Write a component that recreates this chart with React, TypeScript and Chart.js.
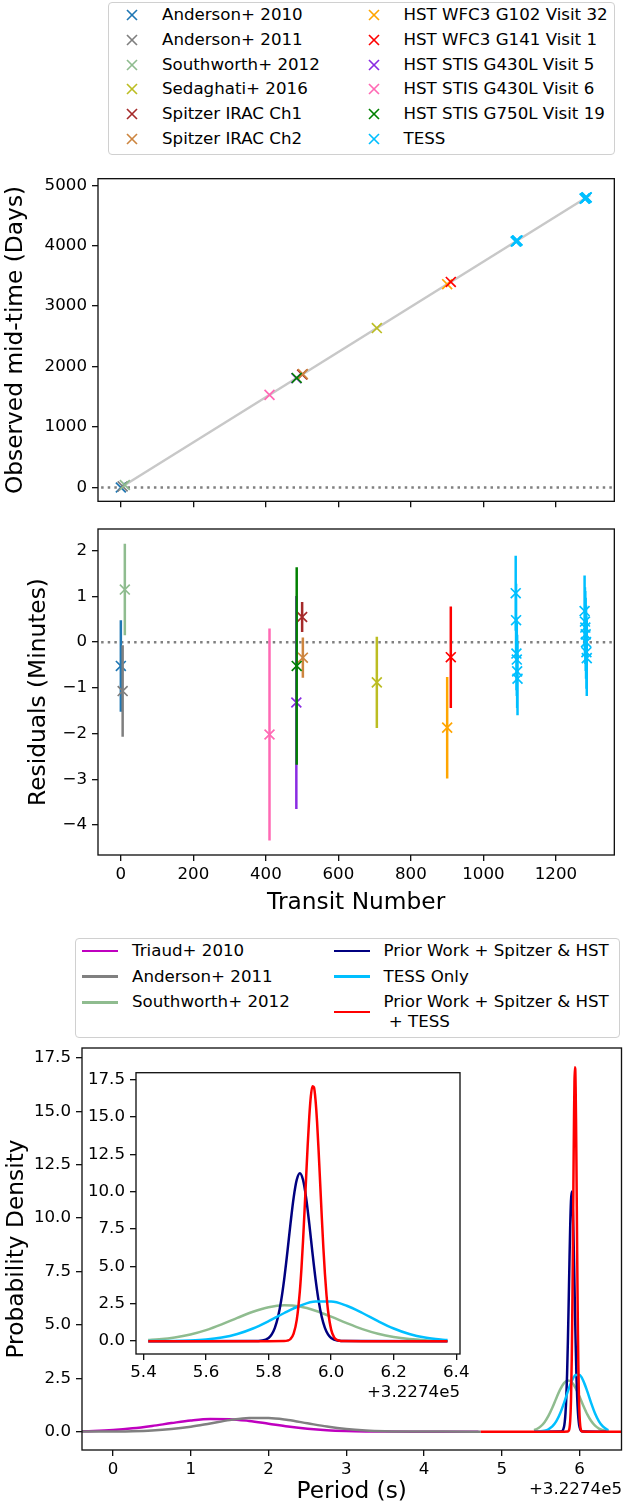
import React, { useEffect, useRef } from 'react';
import { Chart, registerables } from 'chart.js';

Chart.register(...registerables);

const FONT = "'DejaVu Sans', 'Liberation Sans', sans-serif";
const TICK_PX = 16.67;
const LABEL_PX = 23.3;

// ---------------- Transit timing data ----------------
const SERIES_NAMES = [
  'Anderson+ 2010', 'Anderson+ 2011', 'Southworth+ 2012', 'Sedaghati+ 2016',
  'Spitzer IRAC Ch1', 'Spitzer IRAC Ch2', 'HST WFC3 G102 Visit 32', 'HST WFC3 G141 Visit 1',
  'HST STIS G430L Visit 5', 'HST STIS G430L Visit 6', 'HST STIS G750L Visit 19', 'TESS',
];
const SERIES_COLORS = [
  '#1f77b4', '#7f7f7f', '#8fbc8f', '#bcbd22', '#a52a2a', '#cd853f',
  '#ffa500', '#ff0000', '#8a2be2', '#ff69b4', '#008000', '#00bfff',
];
const TRANSIT_NUMBERS = [
  [0], [5], [11], [706], [500], [502], [900], [910], [484], [410], [485],
  [1089, 1090, 1091, 1092, 1093, 1094, 1279, 1280, 1281, 1282, 1283, 1284, 1285],
];
const MIDTIMES_DAYS = [
  [0], [18.7], [41.1], [2637.2], [1867.7], [1875.2], [3361.9], [3399.2], [1808.0], [1531.5], [1811.7],
  [4067.9, 4071.6, 4075.4, 4079.1, 4082.8, 4086.6, 4777.6, 4781.4, 4785.1, 4788.8, 4792.6, 4796.3, 4800.0],
];
const RESIDUALS_MIN = [
  [-0.52], [-1.07], [1.15], [-0.88], [0.55], [-0.34], [-1.87], [-0.33], [-1.32], [-2.02], [-0.52],
  [1.07, 0.48, -0.25, -0.38, -0.64, -0.80, 0.68, 0.45, 0.32, 0.17, 0.0, -0.22, -0.35],
];
const RESIDUAL_ERRS = [
  [1.0], [1.0], [1.0], [1.0], [0.33], [0.44], [1.11], [1.11], [2.33], [2.32], [2.16],
  [0.82, 0.8, 0.8, 0.8, 0.8, 0.8, 0.78, 0.75, 0.8, 0.8, 0.8, 0.8, 0.83],
];
const FIT_TRANSITS = [0, 1295];
const FIT_MIDTIMES = [0, 4837.4];
const ZERO_LINE_X = [-200, 1600];
const ZERO_LINE_Y = [0, 0];

const TRANSIT_TICKS = [0, 200, 400, 600, 800, 1000, 1200];
const MIDTIME_TICKS = [0, 1000, 2000, 3000, 4000, 5000];
const RESIDUAL_TICKS = [-4, -3, -2, -1, 0, 1, 2];

// ---------------- Period posterior data (offset from 3.2274e5 s) ----------------
const PDF_NAMES = [
  'Triaud+ 2010', 'Anderson+ 2011', 'Southworth+ 2012',
  'Prior Work + Spitzer & HST', 'TESS Only', 'Prior Work + Spitzer & HST\n + TESS',
];
const PDF_COLORS = ['#bf00bf', '#808080', '#8fbc8f', '#000080', '#00bfff', '#ff0000'];

const TRIAUD_X = [-0.5, -0.25, 0, 0.25, 0.5, 0.75, 1.0, 1.25, 1.5, 1.75, 2.0, 2.25, 2.5, 2.75, 3.0, 3.25, 3.5, 4.0, 4.7];
const TRIAUD_Y = [0.0125, 0.033, 0.076, 0.153, 0.265, 0.399, 0.523, 0.593, 0.585, 0.501, 0.372, 0.24, 0.135, 0.065, 0.028, 0.01, 0.003, 0, 0];

const ANDERSON_X = [-0.5, -0.25, 0, 0.25, 0.5, 0.75, 1.0, 1.25, 1.5, 1.75, 2.0, 2.25, 2.5, 2.75, 3.0, 3.25, 3.5, 3.75, 4.0, 4.25, 4.73];
const ANDERSON_Y = [0.0003, 0.0015, 0.0057, 0.018, 0.051, 0.118, 0.231, 0.384, 0.539, 0.639, 0.641, 0.544, 0.39, 0.237, 0.121, 0.053, 0.019, 0.006, 0.0016, 0.0003, 0];

const SOUTHWORTH_X = [5.415, 5.45, 5.5, 5.55, 5.6, 5.65, 5.7, 5.75, 5.8, 5.85, 5.9, 5.95, 6.0, 6.05, 6.1, 6.15, 6.2, 6.25, 6.3, 6.372];
const SOUTHWORTH_Y = [0.072, 0.1225, 0.244, 0.444, 0.738, 1.12, 1.552, 1.965, 2.272, 2.399, 2.314, 2.037, 1.639, 1.204, 0.808, 0.495, 0.277, 0.1415, 0.066, 0.019];

const PRIOR_X = [5.415, 5.75, 5.78, 5.8, 5.81, 5.82, 5.83, 5.84, 5.85, 5.86, 5.87, 5.88, 5.89, 5.9, 5.91, 5.92, 5.93, 5.94, 5.95, 5.96, 5.97, 5.98, 5.99, 6.0, 6.02, 6.05, 6.372];
const PRIOR_Y = [0, 0.0015, 0.037, 0.212, 0.452, 0.887, 1.61, 2.695, 4.17, 5.96, 7.86, 9.59, 10.8, 11.24, 10.8, 9.59, 7.86, 5.96, 4.17, 2.695, 1.61, 0.887, 0.452, 0.212, 0.037, 0.0015, 0];

const TESS_ONLY_X = [5.415, 5.5, 5.55, 5.6, 5.65, 5.7, 5.75, 5.8, 5.85, 5.9, 5.95, 6.0, 6.05, 6.1, 6.15, 6.2, 6.25, 6.3, 6.35, 6.372];
const TESS_ONLY_Y = [0.002, 0.0156, 0.0435, 0.108, 0.241, 0.479, 0.847, 1.337, 1.883, 2.366, 2.652, 2.652, 2.366, 1.883, 1.337, 0.847, 0.479, 0.241, 0.108, 0.074];

const COMBINED_X = [4.73, 5.415, 5.8, 5.85, 5.86, 5.87, 5.88, 5.89, 5.9, 5.905, 5.91, 5.915, 5.92, 5.925, 5.93, 5.935, 5.94, 5.945, 5.95, 5.955, 5.96, 5.965, 5.97, 5.975, 5.98, 5.985, 5.99, 6.0, 6.01, 6.02, 6.03, 6.04, 6.1, 6.372, 6.8];
const COMBINED_Y = [0, 0, 0, 0.007, 0.035, 0.144, 0.497, 1.42, 3.37, 4.85, 6.67, 8.75, 10.96, 13.12, 14.99, 16.37, 17.06, 16.98, 16.14, 14.65, 12.7, 10.52, 8.32, 6.28, 4.53, 3.12, 2.05, 0.772, 0.242, 0.063, 0.014, 0.002, 0, 0, 0];

const PDF_XS = [TRIAUD_X, ANDERSON_X, SOUTHWORTH_X, PRIOR_X, TESS_ONLY_X, COMBINED_X];
const PDF_YS = [TRIAUD_Y, ANDERSON_Y, SOUTHWORTH_Y, PRIOR_Y, TESS_ONLY_Y, COMBINED_Y];

const PERIOD_TICKS = [0, 1, 2, 3, 4, 5, 6];
const DENSITY_TICKS = [0, 2.5, 5, 7.5, 10, 12.5, 15, 17.5];
const INSET_PERIOD_TICKS = [5.4, 5.6, 5.8, 6.0, 6.2, 6.4];
const PERIOD_OFFSET_LABEL = '+3.2274e5';

// ---------------- helpers ----------------
type Pt = { x: number; y: number };
const pts = (xs: number[], ys: number[]): Pt[] => xs.map((x, i) => ({ x, y: ys[i] }));
const minusFmt = (v: number) => (v < 0 ? '\u2212' + String(Math.abs(v)) : String(v));

const framePlugin = {
  id: 'frame',
  beforeDraw(chart: any) {
    const { ctx, chartArea: a } = chart;
    ctx.save();
    ctx.fillStyle = '#ffffff';
    ctx.fillRect(a.left, a.top, a.right - a.left, a.bottom - a.top);
    ctx.restore();
  },
  afterDraw(chart: any) {
    const { ctx, chartArea: a } = chart;
    ctx.save();
    ctx.strokeStyle = '#111';
    ctx.lineWidth = 1.33;
    ctx.strokeRect(a.left, a.top, a.right - a.left, a.bottom - a.top);
    ctx.restore();
  },
};

const errorBarPlugin = {
  id: 'errbars',
  beforeDatasetDraw(chart: any, args: any) {
    const ds = chart.data.datasets[args.index];
    if (!ds.errors) return;
    const { ctx, chartArea: a, scales } = chart;
    ctx.save();
    ctx.beginPath();
    ctx.rect(a.left, a.top, a.right - a.left, a.bottom - a.top);
    ctx.clip();
    ctx.strokeStyle = ds.borderColor;
    ctx.lineWidth = 2.5;
    ctx.beginPath();
    ds.data.forEach((p: Pt, i: number) => {
      const px = scales.x.getPixelForValue(p.x);
      ctx.moveTo(px, scales.y.getPixelForValue(p.y - ds.errors[i]));
      ctx.lineTo(px, scales.y.getPixelForValue(p.y + ds.errors[i]));
    });
    ctx.stroke();
    ctx.restore();
  },
};

function makeAxis(o: {
  horizontal: boolean; ticks: number[]; fmt: (v: number) => string; min: number; max: number;
  size: number; showLabels?: boolean; title?: string; titlePad?: number; tickPad?: number;
}) {
  return {
    type: 'linear',
    position: o.horizontal ? 'bottom' : 'left',
    min: o.min,
    max: o.max,
    grid: {
      display: true, drawOnChartArea: false, drawTicks: true, tickLength: 6,
      tickWidth: 1.33, tickColor: '#111', lineWidth: 1.33, color: '#111',
    },
    border: { display: false },
    ticks: {
      display: o.showLabels !== false, autoSkip: false, maxRotation: 0, minRotation: 0,
      padding: o.tickPad ?? 5, color: '#000', font: { family: FONT, size: TICK_PX },
      callback: (v: any) => o.fmt(Number(v)),
    },
    title: o.title
      ? {
          display: true, text: o.title, color: '#000', font: { family: FONT, size: LABEL_PX },
          padding: o.horizontal ? { top: 0, bottom: o.titlePad ?? 0 } : { top: o.titlePad ?? 0, bottom: 0 },
        }
      : { display: false },
    afterBuildTicks: (s: any) => { s.ticks = o.ticks.map((value) => ({ value })); },
    afterFit: (s: any) => {
      if (o.horizontal) s.height = o.size; else s.width = o.size;
      s.paddingTop = 0; s.paddingBottom = 0; s.paddingLeft = 0; s.paddingRight = 0;
    },
  };
}

function baseOptions(padding: any, scales: any) {
  return {
    responsive: false,
    maintainAspectRatio: false,
    animation: false,
    devicePixelRatio: 1,
    events: [],
    layout: { padding },
    plugins: { legend: { display: false }, tooltip: { enabled: false } },
    scales,
  };
}

function withOrder(datasets: any[]) {
  return datasets.map((d, i) => ({ ...d, order: -i }));
}

function ChartBox({ left, top, width, height, make }: { left: number; top: number; width: number; height: number; make: () => any }) {
  const ref = useRef<HTMLCanvasElement>(null);
  useEffect(() => {
    const chart = new Chart(ref.current as HTMLCanvasElement, make());
    return () => chart.destroy();
  }, []);
  return (
    <div style={{ position: 'absolute', left, top, width, height }}>
      <canvas ref={ref} width={width} height={height} style={{ width, height, display: 'block' }} />
    </div>
  );
}

// ---------------- chart configs ----------------
function topConfig() {
  const datasets: any[] = [
    { data: pts(ZERO_LINE_X, ZERO_LINE_Y), showLine: true, borderColor: '#808080', borderWidth: 2.5, borderDash: [2.5, 4.1], pointRadius: 0, clip: 0 },
    { data: pts(FIT_TRANSITS, FIT_MIDTIMES), showLine: true, borderColor: '#c8c8c8', borderWidth: 2.5, pointRadius: 0, clip: 0 },
  ];
  SERIES_NAMES.forEach((name, i) => {
    datasets.push({
      label: name, data: pts(TRANSIT_NUMBERS[i], MIDTIMES_DAYS[i]), pointStyle: 'crossRot', pointRadius: 7,
      borderColor: SERIES_COLORS[i], backgroundColor: SERIES_COLORS[i], borderWidth: 1.67, clip: 0,
    });
  });
  return {
    type: 'scatter',
    data: { datasets: withOrder(datasets) },
    options: baseOptions({ top: 5.7, right: 1, left: 0, bottom: 0 }, {
      x: makeAxis({ horizontal: true, ticks: TRANSIT_TICKS, fmt: String, min: -63, max: 1361, size: 8, showLabels: false }),
      y: makeAxis({ horizontal: false, ticks: MIDTIME_TICKS, fmt: String, min: -229, max: 5108, size: 98, title: 'Observed mid-time (Days)', titlePad: 2 }),
    }),
    plugins: [framePlugin],
  };
}

function residualConfig() {
  const datasets: any[] = [
    { data: pts(ZERO_LINE_X, ZERO_LINE_Y), showLine: true, borderColor: '#808080', borderWidth: 2.5, borderDash: [2.5, 4.1], pointRadius: 0, clip: 0 },
  ];
  SERIES_NAMES.forEach((name, i) => {
    datasets.push({
      label: name, data: pts(TRANSIT_NUMBERS[i], RESIDUALS_MIN[i]), errors: RESIDUAL_ERRS[i], pointStyle: 'crossRot', pointRadius: 7,
      borderColor: SERIES_COLORS[i], backgroundColor: SERIES_COLORS[i], borderWidth: 1.67, clip: 0,
    });
  });
  return {
    type: 'scatter',
    data: { datasets: withOrder(datasets) },
    options: baseOptions({ top: 9, right: 1, left: 0, bottom: 0 }, {
      x: makeAxis({ horizontal: true, ticks: TRANSIT_TICKS, fmt: String, min: -63, max: 1361, size: 75, title: 'Transit Number', titlePad: 13, tickPad: 4 }),
      y: makeAxis({ horizontal: false, ticks: RESIDUAL_TICKS, fmt: minusFmt, min: -4.656, max: 2.475, size: 98, title: 'Residuals (Minutes)', titlePad: 25 }),
    }),
    plugins: [framePlugin, errorBarPlugin],
  };
}

function pdfDatasets(lo: number, hi: number) {
  const out: any[] = [];
  PDF_NAMES.forEach((name, i) => {
    const data = pts(PDF_XS[i], PDF_YS[i]).filter((p) => p.x >= lo && p.x <= hi);
    if (!data.length) return;
    out.push({
      label: name, data, showLine: true, borderColor: PDF_COLORS[i], borderWidth: 2.5, pointRadius: 0,
      cubicInterpolationMode: 'monotone', borderJoinStyle: 'round', clip: 0,
    });
  });
  return withOrder(out);
}

function periodConfig() {
  return {
    type: 'scatter',
    data: { datasets: pdfDatasets(-10, 10) },
    options: baseOptions({ top: 8, right: 1.5, left: 0, bottom: 0 }, {
      x: makeAxis({ horizontal: true, ticks: PERIOD_TICKS, fmt: String, min: -0.4, max: 6.54, size: 56, title: 'Period (s)', titlePad: 0, tickPad: 4 }),
      y: makeAxis({ horizontal: false, ticks: DENSITY_TICKS, fmt: (v) => v.toFixed(1), min: -0.86, max: 17.96, size: 82, title: 'Probability Density', titlePad: 3 }),
    }),
    plugins: [framePlugin],
  };
}

function insetConfig() {
  return {
    type: 'scatter',
    data: { datasets: pdfDatasets(5.41, 6.38) },
    options: baseOptions({ top: 6.7, right: 26, left: 0, bottom: 0 }, {
      x: makeAxis({ horizontal: true, ticks: INSET_PERIOD_TICKS, fmt: (v) => v.toFixed(1), min: 5.376, max: 6.412, size: 32, tickPad: 3 }),
      y: makeAxis({ horizontal: false, ticks: DENSITY_TICKS, fmt: (v) => v.toFixed(1), min: -0.86, max: 17.96, size: 50 }),
    }),
    plugins: [framePlugin],
  };
}

// ---------------- legends ----------------
const textStyle = (left: number, cy: number): React.CSSProperties => ({
  position: 'absolute', left, top: cy - 10, fontSize: TICK_PX, lineHeight: '20px', color: '#000', whiteSpace: 'pre', fontFamily: FONT,
});

function XMark({ cx, cy, color }: { cx: number; cy: number; color: string }) {
  return (
    <svg style={{ position: 'absolute', left: cx - 7, top: cy - 7 }} width={14} height={14}>
      <line x1={2} y1={2} x2={12} y2={12} stroke={color} strokeWidth={1.67} />
      <line x1={12} y1={2} x2={2} y2={12} stroke={color} strokeWidth={1.67} />
    </svg>
  );
}

function TopLegend() {
  const rows = [15, 39.8, 64.5, 89.2, 114, 138.7];
  return (
    <>
      <div style={{ position: 'absolute', left: 108, top: 2, width: 507, height: 153, border: '1.4px solid #d0d0d0', borderRadius: 4, boxSizing: 'border-box', background: 'rgba(255,255,255,0.8)' }} />
      {SERIES_NAMES.map((name, i) => {
        const col = i < 6 ? 0 : 1;
        const cy = rows[i % 6];
        const mx = col === 0 ? 132 : 373.5;
        const tx = col === 0 ? 162 : 403.5;
        return (
          <React.Fragment key={name}>
            <XMark cx={mx} cy={cy} color={SERIES_COLORS[i]} />
            <div style={textStyle(tx, cy)}>{name}</div>
          </React.Fragment>
        );
      })}
    </>
  );
}

function PdfLegend() {
  const slots = [
    { hx: 81.6, tx: 132, cy: 951, hy: 951 },
    { hx: 81.6, tx: 132, cy: 976.7, hy: 976.7 },
    { hx: 81.6, tx: 132, cy: 1002.3, hy: 1002.3 },
    { hx: 333.6, tx: 383.5, cy: 951, hy: 951 },
    { hx: 333.6, tx: 383.5, cy: 976.7, hy: 976.7 },
    { hx: 333.6, tx: 383.5, cy: 1002.3, hy: 1012.2 },
  ];
  return (
    <>
      <div style={{ position: 'absolute', left: 75, top: 937.7, width: 545, height: 100, border: '1.4px solid #d0d0d0', borderRadius: 4, boxSizing: 'border-box', background: 'rgba(255,255,255,0.8)' }} />
      {PDF_NAMES.map((name, i) => {
        const s = slots[i];
        return (
          <React.Fragment key={name}>
            <div style={{ position: 'absolute', left: s.hx, top: s.hy - 1.25, width: 36.6, height: 2.5, background: PDF_COLORS[i] }} />
            <div style={{ ...textStyle(s.tx, s.cy), lineHeight: '19.7px', top: s.cy - 9.85 }}>{name}</div>
          </React.Fragment>
        );
      })}
    </>
  );
}

export default function App() {
  return (
    <div style={{ position: 'fixed', left: 0, top: 0, width: 623, height: 1506, background: '#fff', fontFamily: FONT, overflow: 'hidden' }}>
      <TopLegend />
      <ChartBox left={0} top={170} width={623} height={340} make={topConfig} />
      <ChartBox left={0} top={520} width={623} height={410} make={residualConfig} />
      <PdfLegend />
      <ChartBox left={0} top={1040} width={623} height={466} make={periodConfig} />
      <ChartBox left={86} top={1066} width={400} height={320} make={insetConfig} />
      <div style={{ position: 'absolute', right: 623 - 460, top: 1392 - 10, fontSize: TICK_PX, lineHeight: '20px', color: '#000' }}>{PERIOD_OFFSET_LABEL}</div>
      <div style={{ position: 'absolute', right: 1, top: 1489 - 10, fontSize: TICK_PX, lineHeight: '20px', color: '#000' }}>{PERIOD_OFFSET_LABEL}</div>
    </div>
  );
}
